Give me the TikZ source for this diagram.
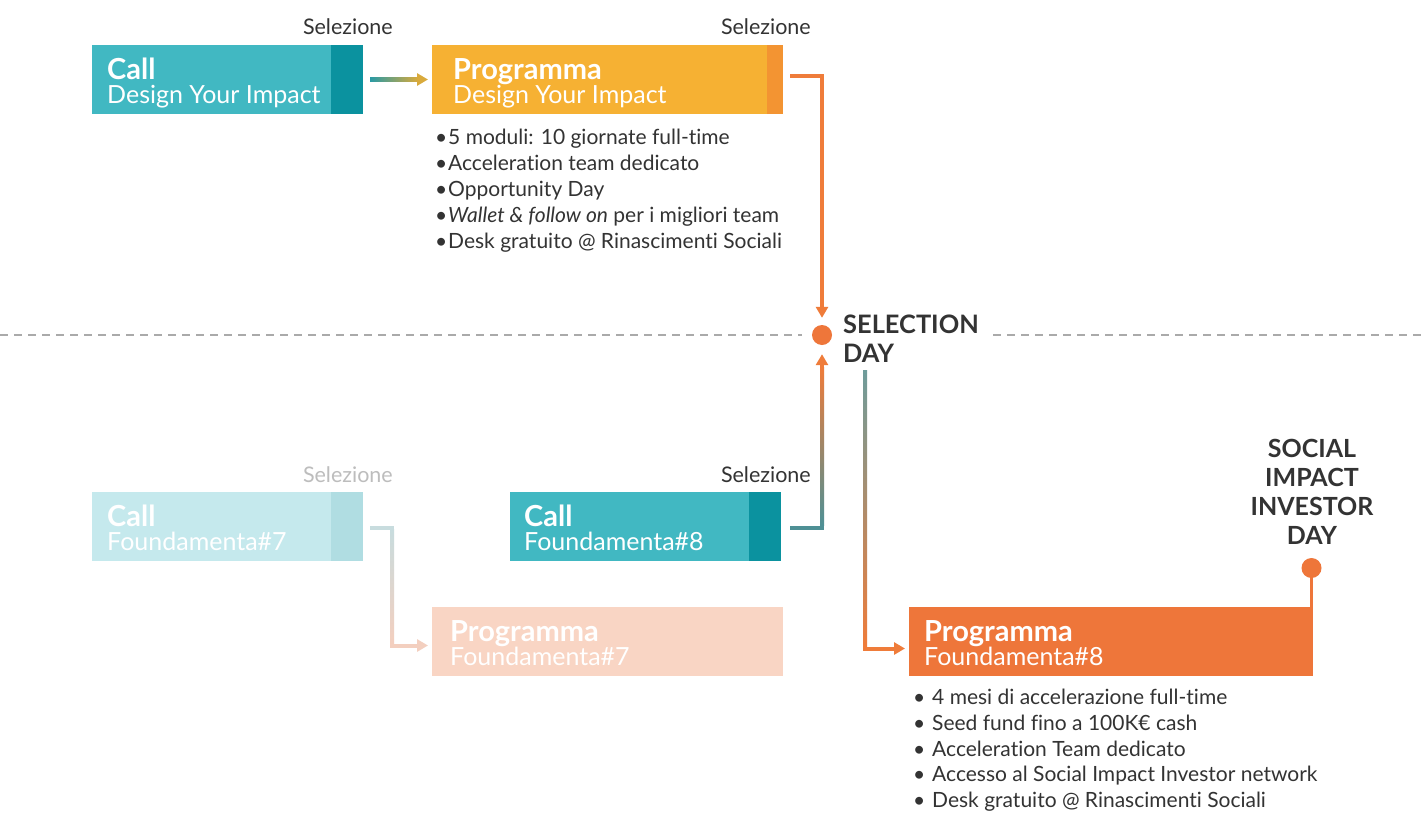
\documentclass[tikz,border=0pt]{standalone}
\usepackage{fontspec}
\setmainfont{Lato}[Ligatures={NoCommon}]
\usetikzlibrary{arrows.meta}
\definecolor{tealA}{HTML}{41B8C2}
\definecolor{tealD}{HTML}{0B929F}
\definecolor{goldA}{HTML}{F6B133}
\definecolor{goldS}{HTML}{F39432}
\definecolor{orng}{HTML}{EE763A}
\definecolor{orngL}{HTML}{EF7C3A}
\definecolor{fadeT}{HTML}{C5E9ED}
\definecolor{fadeTS}{HTML}{B0DDE2}
\definecolor{fadeP}{HTML}{F9D5C4}
\definecolor{txt}{HTML}{333333}
\definecolor{fadeTxt}{HTML}{BDBDBD}
\definecolor{dashc}{HTML}{AAAAAA}
\definecolor{arrTeal}{HTML}{2A9AA4}
\definecolor{arrGold}{HTML}{D9AA3C}
\definecolor{lnTeal}{HTML}{4E9095}
\definecolor{lnGrey}{HTML}{6E9C9B}
\definecolor{f7top}{HTML}{C8DCDE}
\definecolor{f7bot}{HTML}{F3CFBF}
\begin{document}
\begin{tikzpicture}[x=1pt,y=-1pt,
  box/.style={inner sep=0pt, outer sep=0pt, anchor=north west, minimum height=69pt},
  ttl/.style={anchor=base west, inner sep=0pt, text=white, font=\fontsize{29}{32}\selectfont\bfseries},
  sub/.style={anchor=base west, inner sep=0pt, text=white, font=\fontsize{25}{28}\selectfont},
  sel/.style={anchor=base east, inner sep=0pt, text=txt, font=\fontsize{21.5}{24}\selectfont},
  bul/.style={anchor=base west, inner sep=0pt, text=txt, font=\fontsize{21}{24}\selectfont},
  big/.style={inner sep=0pt, text=txt, font=\fontsize{25.4}{29}\selectfont\bfseries},
  conn/.style={line width=4pt, -{Triangle[length=11pt,width=12pt]}},
  dot/.style={circle, inner sep=0pt, minimum size=20pt, fill=orng},
  dashline/.style={draw=dashc, line width=1.3pt, dash pattern=on 8pt off 6pt}
]
\useasboundingbox (0,0) rectangle (1426,814);
\fill[white] (0,0) rectangle (1426,814);

% dashed divider
\node[dot] (selday) at (822,335) {};
\node[big, anchor=base west] (selT1) at (843,333) {SELECTION};
\node[big, anchor=base west] (selT2) at (843,362) {DAY};
\draw[dashline] (0,335) -- ([xshift=-10pt]selday.west);
\draw[dashline] ([xshift=14pt]selT1.east |- selday) -- (1426,335);

% ---------- top row ----------
\node[box, fill=tealA, minimum width=271pt] (callD) at (92,45) {};
\fill[tealD] ([xshift=-32pt]callD.north east) rectangle (callD.south east);
\node[ttl] (callDt) at (107,79) {Call};
\node[sub] (callDs) at (107,103) {Design Your Impact};
\node[sel] (selD1) at (393,34) {Selezione};

\node[box, fill=goldA, minimum width=351pt] (progD) at (432,45) {};
\fill[goldS] ([xshift=-16pt]progD.north east) rectangle (progD.south east);
\node[ttl] (progDt) at (453,79) {Programma};
\node[sub] (progDs) at (453,103) {Design Your Impact};
\node[sel] (selD2) at (811,34) {Selezione};

\foreach \i/\y/\t in {1/144/{5 moduli: 10 giornate full-time},
                      2/170/{Acceleration team dedicato},
                      3/196/{Opportunity Day},
                      4/222/{\textit{Wallet \& follow on} per i migliori team},
                      5/248/{Desk gratuito @ Rinascimenti Sociali}}
  \node[bul] (d\i) at (435,\y) {\makebox[13pt][l]{•}\t};

% arrow call -> programma (DYI)
\draw[conn, draw=arrGold, shorten <=7pt, shorten >=4pt] (callD.east) -- (progD.west);
\shade[left color=arrTeal, right color=arrGold] (370,77.5) rectangle (418,81.5);

% programma DYI -> selection day
\draw[conn, draw=orngL, shorten <=7pt, shorten >=7pt] ([yshift=4pt]progD.east) -| (selday.north);

% ---------- bottom ----------
\node[box, fill=fadeT, minimum width=271pt] (callF7) at (92,492) {};
\fill[fadeTS] ([xshift=-32pt]callF7.north east) rectangle (callF7.south east);
\node[ttl] (callF7t) at (107,526) {Call};
\node[sub] (callF7s) at (107,550) {Foundamenta\#7};
\node[sel, text=fadeTxt] (selF7) at (393,482) {Selezione};

\node[box, fill=fadeP, minimum width=351pt] (progF7) at (432,607) {};
\node[ttl] (progF7t) at (450,641) {Programma};
\node[sub] (progF7s) at (450,665) {Foundamenta\#7};

\draw[conn, draw=f7bot, shorten <=7pt, shorten >=4pt] ([yshift=-1pt]callF7.east) -- ++(29,0) |- ([yshift=-4pt]progF7.west);
\draw[line width=4pt, draw=f7top] (370,527.5) -- (394,527.5);
\shade[top color=f7top, bottom color=f7bot] (390,529.5) rectangle (394,643);

\node[box, fill=tealA, minimum width=271pt] (callF8) at (510,492) {};
\fill[tealD] ([xshift=-32pt]callF8.north east) rectangle (callF8.south east);
\node[ttl] (callF8t) at (524,526) {Call};
\node[sub] (callF8s) at (524,550) {Foundamenta\#8};
\node[sel] (selF8) at (811,482) {Selezione};

% call F8 -> selection day
\draw[conn, draw=orngL, shorten <=9pt, shorten >=9pt] ([yshift=-1pt]callF8.east) -| (selday.south);
\draw[line width=4pt, draw=lnTeal] (790,527.5) -- (824,527.5);
\shade[top color=orngL, bottom color=lnTeal] (820,367) rectangle (824,525.5);

\node[box, fill=orng, minimum width=404pt] (progF8) at (909,607) {};
\node[ttl] (progF8t) at (924,641) {Programma};
\node[sub] (progF8s) at (924,665) {Foundamenta\#8};

% selection day -> programma F8
\coordinate (dayfoot) at (865,370);
\draw[conn, draw=orngL, shorten >=4pt] (dayfoot) |- ([yshift=-7pt]progF8.west);
\shade[top color=lnGrey, bottom color=orngL] (863,370) rectangle (867,646);

% social impact investor day
\node[big, anchor=base, font=\fontsize{25}{28}\selectfont\bfseries] (si1) at (1312,457) {SOCIAL};
\node[big, anchor=base, font=\fontsize{25}{28}\selectfont\bfseries] (si2) at (1312,486) {IMPACT};
\node[big, anchor=base, font=\fontsize{25}{28}\selectfont\bfseries] (si3) at (1312,515) {INVESTOR};
\node[big, anchor=base, font=\fontsize{25}{28}\selectfont\bfseries] (si4) at (1312,544) {DAY};
\node[dot] (sidot) at (1311.5,568) {};
\draw[orng, line width=3pt] (sidot) -- (sidot |- progF8.north);

\foreach \i/\y/\t in {1/704/{4 mesi di accelerazione full-time},
                      2/730/{Seed fund fino a 100K€ cash},
                      3/756/{Acceleration Team dedicato},
                      4/781/{Accesso al Social Impact Investor network},
                      5/807/{Desk gratuito @ Rinascimenti Sociali}}
  \node[bul] (f\i) at (913,\y) {\makebox[19pt][l]{•}\t};
\end{tikzpicture}
\end{document}
